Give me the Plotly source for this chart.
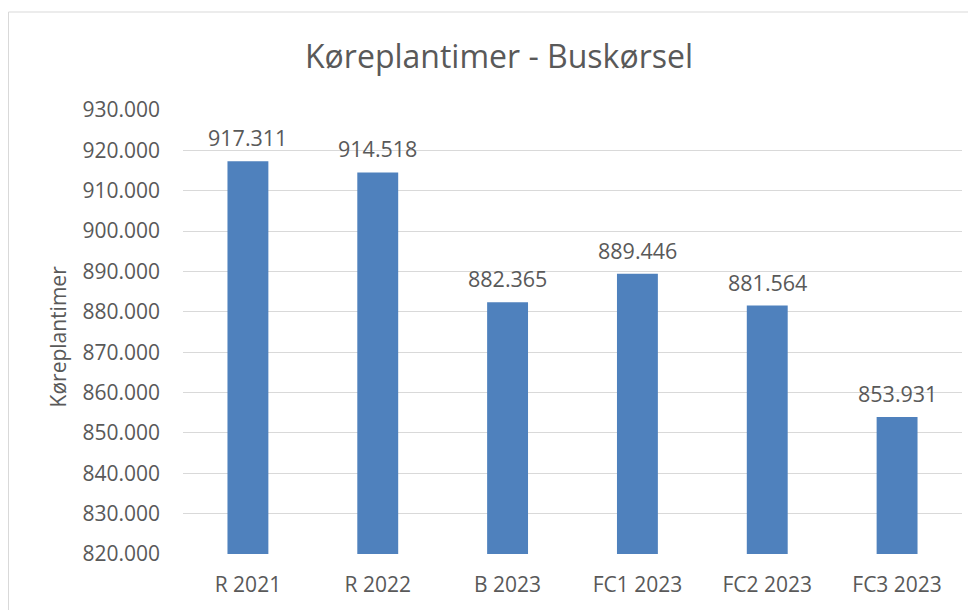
import plotly.graph_objects as go

categories = ["R 2021", "R 2022", "B 2023", "FC1 2023", "FC2 2023", "FC3 2023"]
values = [917311, 914518, 882365, 889446, 881564, 853931]
y_ticks = [820000, 830000, 840000, 850000, 860000, 870000, 880000, 890000, 900000, 910000, 920000, 930000]

title_text = "Køreplantimer - Buskørsel"
y_title = "Køreplantimer"

FONT = "Open Sans"
TXT = "#595959"
GRID = "#d9d9d9"
BAR = "#4F81BD"

# the page puts the figure 8px in from the top-left corner
W, H = 968, 602
L, R, T, B = 175, 14, 102, 56
PW, PH = W - L - R, H - T - B

fig = go.Figure()
fig.add_trace(go.Bar(
    x=categories, y=values, marker=dict(color=BAR, line=dict(width=0)),
    showlegend=False, hoverinfo="x+y",
))

for c, v in zip(categories, values):
    fig.add_annotation(x=c, y=v, xref="x", yref="y", text=f"{v:,}".replace(",", "."),
                       showarrow=False, yanchor="bottom", yshift=7,
                       font=dict(family=FONT, size=21.5, color=TXT))

fig.add_annotation(x=(50 - L) / PW, y=0.49, xref="paper", yref="paper",
                   text=y_title, textangle=-90, showarrow=False,
                   xanchor="center", yanchor="middle",
                   font=dict(family=FONT, size=21, color=TXT))

fig.add_shape(type="rect", xref="paper", yref="paper",
              x0=(0.5 - L) / PW, x1=(967 - L) / PW,
              y0=(H - B - 640) / PH, y1=(H - B - 4) / PH,
              line=dict(color=GRID, width=1), fillcolor="rgba(0,0,0,0)", layer="below")

fig.update_layout(
    width=W, height=H,
    margin=dict(l=L, r=R, t=T, b=B),
    paper_bgcolor="white", plot_bgcolor="white",
    separators=",.",
    bargap=0.685,
    title=dict(text=title_text, x=491 / W, xanchor="center", y=1 - 49 / H, yanchor="middle",
               font=dict(family=FONT, size=32, color=TXT)),
    font=dict(family=FONT, color=TXT),
    xaxis=dict(showgrid=False, showline=False, ticks="", ticklabelstandoff=16,
               tickfont=dict(family=FONT, size=21, color=TXT)),
    yaxis=dict(range=[820000, 930000], tickvals=y_ticks, tickformat=",d",
               showgrid=True, gridcolor=GRID, gridwidth=1, zeroline=False,
               showline=False, ticks="", ticklabelstandoff=22,
               tickfont=dict(family=FONT, size=21, color=TXT)),
)

fig.write_html("out.html")
